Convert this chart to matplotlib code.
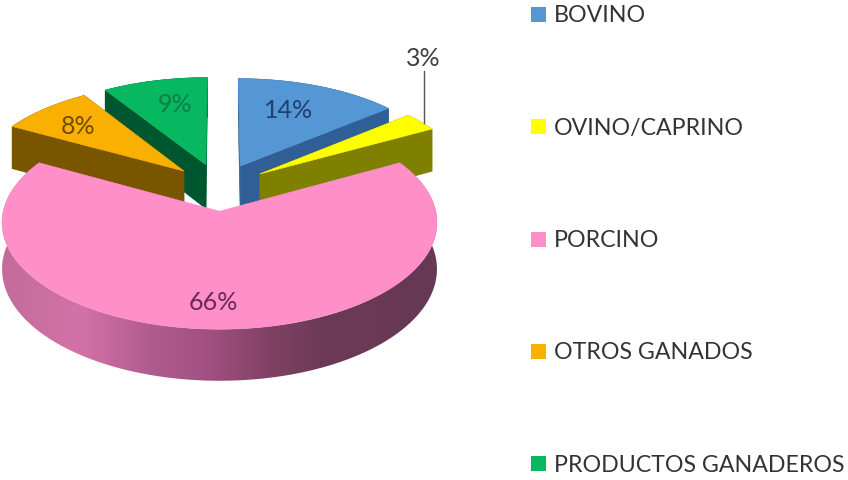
import numpy as np
import matplotlib
matplotlib.use("Agg")
import matplotlib.pyplot as plt
from matplotlib.patches import Polygon, Rectangle

# Share of each livestock group, percent
categories = ["BOVINO", "OVINO/CAPRINO", "PORCINO", "OTROS GANADOS", "PRODUCTOS GANADEROS"]
values = [14, 3, 66, 8, 9]

top_colors = ["#5596d5", "#ffff00", "#ff8fc8", "#f9b000", "#08b860"]
side_colors = ["#2f5f94", "#7f7f00", "#a5527f", "#7a5500", "#00572f"]
label_colors = ["#223f70", "#404040", "#6a2a58", "#6e4b00", "#0b7f48"]
label_xy = [(289, 110), (423, 59), (213, 303), (78, 126), (175, 105)]
legend_y = [16, 128.5, 241, 353, 465.5]

# Projection of the tilted pie onto the page
CX, CY = 219.5, 188
RX, RY = 211, 100.5
PERSP = 0.103
EXPLODE = 0.235
DEPTH = 45

# Horizontal shading of the large slice's wall
shade_x = [0, 10, 80, 150, 210, 270, 320, 440]
shade_r = [0xc4, 0xc4, 0xd4, 0xb0, 0xa0, 0x80, 0x6c, 0x66]
shade_g = [0x6c, 0x6c, 0x72, 0x5c, 0x50, 0x42, 0x3a, 0x38]
shade_b = [0x9c, 0x9c, 0xa8, 0x8e, 0x80, 0x64, 0x56, 0x54]
PORCINO = categories.index("PORCINO")


def project(u, v, drop=0.0):
    scale = 1 / (1 + PERSP * v)
    return CX + RX * u * scale, CY - RY * v * scale + drop * scale


fig = plt.figure(figsize=(8.48, 4.81), dpi=100)
ax = fig.add_axes([0, 0, 1, 1])
ax.axis("off")
plt.rcParams["font.family"] = ["Lato", "DejaVu Sans"]

shares = np.array(values, dtype=float) / sum(values)
edges = np.concatenate([[0], np.cumsum(shares)]) * 2 * np.pi


def draw_slice(i, zorder):
    a0, a1 = edges[i], edges[i + 1]
    mid = (a0 + a1) / 2
    ou, ov = EXPLODE * np.sin(mid), EXPLODE * np.cos(mid)
    ang = np.linspace(a0, a1, 240)
    us, vs = ou + np.sin(ang), ov + np.cos(ang)
    tx, ty = project(us, vs)
    bx, by = project(us, vs, DEPTH)
    px, py = project(ou, ov)
    qx, qy = project(ou, ov, DEPTH)
    side = side_colors[i]

    if i == PORCINO:
        # wall: a horizontal gradient clipped to the band between the two rims
        wall = Polygon(np.column_stack([np.r_[tx, bx[::-1]], np.r_[ty, by[::-1]]]),
                       closed=True, fc="none", ec="none", zorder=zorder)
        ax.add_patch(wall)
        grid = np.arange(0, 441)
        rgb = np.column_stack([np.interp(grid, shade_x, shade_r),
                               np.interp(grid, shade_x, shade_g),
                               np.interp(grid, shade_x, shade_b)]) / 255
        img = ax.imshow(rgb[np.newaxis, :, :], extent=(0, 440, 400, 150), aspect="auto",
                        interpolation="bilinear", zorder=zorder)
        img.set_clip_path(wall)
    else:
        for k in (0, -1):
            ax.add_patch(Polygon([(px, py), (tx[k], ty[k]), (bx[k], by[k]), (qx, qy)],
                                 closed=True, fc=side, ec=side, lw=0.4, zorder=zorder))
        ax.add_patch(Polygon(np.column_stack([np.r_[tx, bx[::-1]], np.r_[ty, by[::-1]]]),
                             closed=True, fc=side, ec=side, lw=0.4, zorder=zorder))

    # top face
    pts = np.column_stack([np.r_[px, tx], np.r_[py, ty]])
    ax.add_patch(Polygon(pts, closed=True, fc=top_colors[i], ec=top_colors[i],
                         lw=0.4, zorder=zorder + 0.5))


# Painter's order: far slices first, the large front slice last
for z, idx in enumerate([4, 3, 0, 1, 2]):
    draw_slice(idx, 2 + z)

# Leader line for the smallest slice
ax.plot([424, 424], [72, 124], color="#555555", lw=1.0, zorder=10)

for i, v in enumerate(values):
    ax.text(label_xy[i][0], label_xy[i][1], f"{v}%", ha="center", va="center",
            fontsize=18, color=label_colors[i], zorder=11)

for name, color, y in zip(categories, top_colors, legend_y):
    ax.add_patch(Rectangle((531, y - 8.5), 15, 15, fc=color, ec="none", zorder=3))
    ax.text(554, y, name, ha="left", va="center", fontsize=16.7, color="#333333")

ax.set_xlim(0, 848)
ax.set_ylim(481, 0)
fig.savefig("out.png", dpi=100, facecolor="white")
